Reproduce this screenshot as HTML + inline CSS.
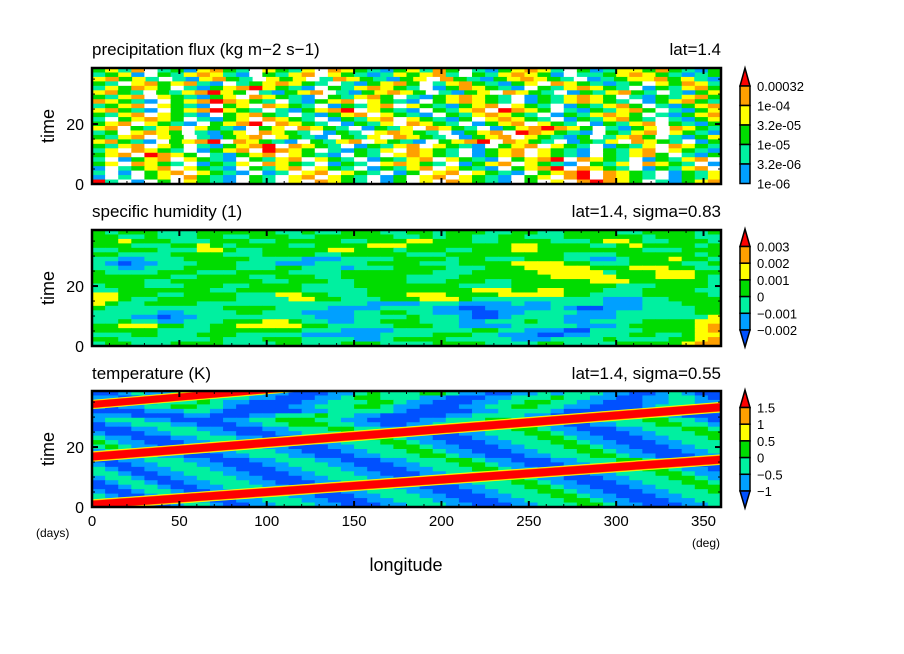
<!DOCTYPE html>
<html><head><meta charset="utf-8"><style>
body{margin:0;background:#fff;}
svg{display:block;font-family:"Liberation Sans",sans-serif;}
</style></head><body>
<svg id="chart" width="904" height="654" viewBox="0 0 904 654" xmlns="http://www.w3.org/2000/svg">
<rect width="904" height="654" fill="#fff"/>
</svg>
<script>
const lonTicks=[0,50,100,150,200,250,300,350];
const timeTicks=[0,20];
const tMax=38.7;
const precipLabels=["0.00032","1e-04","3.2e-05","1e-05","3.2e-06","1e-06"];
const humLabels=["0.003","0.002","0.001","0","\u22120.001","\u22120.002"];
const tempLabels=["1.5","1","0.5","0","\u22120.5","\u22121"];
// level grids (row 0 = top/latest time), 48 cols over 0-360 deg
const precipGrid=[
"3425.2314532.4324.5432134253.2134542.31244353213",
"2341.3245421.3245.4321243452.3245431.22345432123",
"45342.214532.434.25432134.5321345432.1234453421",
"32.4534521.2345432.213453.24532134.5432123.43542",
"243543.2134564321.3245432.1354321.3245432.132453",
"4532.3245643.21345.2134543.2134.5432.1324532.2134",
"3245.432134.54321.32453.21345432.1324543.2132453",
"54321.34565432.21345.4321.345432.13245432.134532",
"2345.4321.34.5432.13245.4321345.432.132453.21345",
"45321.3456432.213456.4321.3245.6543.2132453.2134",
"3245.4321.34532.21345.4321.3245432.1324543.21345",
"2.34543.2134.5432.13245.43213.45432.1324532.2134",
"345.4321.3456.5432.1324.5432.1345.432.13245.3213",
"45.3245.4321.34.5432.1324.5432.13456543.2134.5432",
"23.4543.2134.5432.132.45432.1345.654321.3245.4321",
"3245.43.21345.4321.324.5432.1345.43213.2453.2134",
"45321.3456.54321.3245.4321.3456.5432.1324.5432.13",
"3245.43.213456.5432.13245.4321.345.432.1324.5432",
"24.5432.1345.6543.21324.5432.1345.4321.3245.4321",
"345.6543.21345.4321.32.45432.1345.4321.32453.213",
"2.1345.4321.3245.432.13245.4321.3456.5432.13245.",
"34.5432.1324.5432.132.45432.1345.4321.324.5432.1",
"1.2345.4321.3245.432.13245.4321.3456.5432.13245.",
"2.1.345.4321.12.45.432.13.45.4321.3456.5432.1324",
"1.2.34.5321.32.45.432.13.45.4321.34.56.5432.1324",
"62.1.3.4321.32.4.5432.13.4.54321.3.4.56543.21345"
];
const humGrid=[
"323332223333332232233322332333223322333322333323",
"332232223322333223333332232332233222333333233322",
"334333222333223333322333443332233332223443223332",
"333222334323333223333444333333334433332234333323",
"223332224432233333443332333223334433333333222333",
"332222333322233332233333222333333333222233333323",
"221122233333222211122223333233222333221123334332",
"210112223332221112222333322233334444332223333223",
"221122233332223322212223333222333444443334443322",
"322223332223333222233333332223333344444233344433",
"333333223333223332233333222233333334444433344432",
"333322333333322333223333222333223333334443333332",
"233322233322333322223333333322223333333322233332",
"223333333223333322222333333334443344333222333322",
"443332233332224433222333444333344444332222333332",
"443223333332222443322233344432222222222111223333",
"432233332222222222222111122211112112222111222333",
"322222222233332222111122221100111112100111222233",
"222221122223322211112233221110011222211122222233",
"222110112222222221112222322210012222111122222224",
"223221122233344322112233322211222322112222333344",
"334443322334444433222223332211112222211123333345",
"333332222333333322211112222223322111002222333345",
"222332223332222211111122223332211100112223322344",
"332222222322233322221123333222221112222322223345",
"233222333322223322233322223333222233222233333455"
];
const tempGrid=[
"001211223223211000112322233211001121222110012100",
"110012233222110001123322211000112223221100112210",
"000112223211000011222332110001122332211000112211",
"101122332210000112223321100011223322110000122221",
"000011122100000011222221000001122221000000112211",
"111000011000112223221100000112222110001112221000",
"122211000011223332211000011222332110011222332210",
"011222110001122333221100112223332211001122233221",
"000112221100011222332211000112223321100011222332",
"100011222110001122233221100011222332110001122233",
"211000112221100011222332110001122233211000112223",
"321100011222110001122233211000112223321100011222",
"232110001122211000112223321100011222332110001122",
"122211000112221100011222332110001122233211000112",
"012221100011222110001122233211000112223321100011",
"001122211000112221100011222332110001122233211000",
"100112221100011222110001122233211000112223321100",
"210011222110001122211000112223321100011222332110",
"221001122211000112221100011222332110001122233211",
"122100112221100011222110001122233211000112223321",
"012210011222110001122211000112223321100011222332",
"001221001122211000112221100011222332110001122233",
"100122100112221100011222110001122233211000112223",
"210012210011222110001122211000112223321100011222",
"221001221001122211000112221100011222332110001122",
"122100122100112221100011222110001122233211000112"
];
// warm bands (red) in temperature: time at lon 0 and lon 360 (days)
const bandT0=[0.8,16.8,34.2];
const bandT360=[15.8,33.3,52.0];
const bandWidth=[2.6,2.6,2.3];

const NS="http://www.w3.org/2000/svg";
const svg=document.getElementById('chart');
function mk(tag,attrs,parent){const e=document.createElementNS(NS,tag);for(const k in attrs)e.setAttribute(k,attrs[k]);(parent||svg).appendChild(e);return e;}
const X0=92,X1=721;
function xs(lon){return X0+lon/360*(X1-X0);}
const panels=[{top:68,bot:184},{top:230,bot:346},{top:391,bot:507}];
function ys(p,t){const P=panels[p];return P.bot-t/tMax*(P.bot-P.top);}

const pal1={'.':'#ffffff','1':'#00a0ff','2':'#00f0a0','3':'#00dc00','4':'#ffff00','5':'#ffa000','6':'#ff0000'};
const palB={'0':'#0050ff','1':'#00a0ff','2':'#00f0a0','3':'#00dc00','4':'#ffff00','5':'#ffa000','6':'#ff0000'};

function drawGrid(p,grid,pal,name){
  const g=mk('g',{'clip-path':'url(#clip'+p+')'});
  
  
  const rows=grid.length;
  for(let r=0;r<rows;r++){
    const row=grid[r];const cols=row.length;
    const t1=tMax*(1-r/rows),t0=tMax*(1-(r+1)/rows);
    for(let c=0;c<cols;c++){
      const l0=c*360/cols,l1=(c+1)*360/cols;
      const x=xs(l0),y=ys(p,t1);
      const rc=mk('rect',{x:x,y:y,width:xs(l1)-x+0.5,height:ys(p,t0)-y+0.5,fill:pal[row[c]]||'#fff'},g);
      
      
    }
  }
  return g;
}
const defs=mk('defs',{});
panels.forEach((P,i)=>{const cp=mk('clipPath',{id:'clip'+i},defs);mk('rect',{x:X0,y:P.top,width:X1-X0,height:P.bot-P.top},cp);});

drawGrid(0,precipGrid,pal1,'precip-heatmap');
drawGrid(1,humGrid,palB,'humidity-heatmap');
const tg=drawGrid(2,tempGrid,palB,'temperature-heatmap');
// bands
[[1.35,'#ffff00'],[1.15,'#ffa000'],[1,'#ff0000']].forEach(([f,col])=>{
  for(let i=0;i<bandT0.length;i++){
    const w=bandWidth[i]*f/2;
    const pts=[[0,bandT0[i]-w],[360,bandT360[i]-w],[360,bandT360[i]+w],[0,bandT0[i]+w]].map(([l,t])=>xs(l)+','+ys(2,t)).join(' ');
    const pg=mk('polygon',{points:pts,fill:col},tg);
    
    
  }
});

const titles=[["precipitation flux (kg m\u22122 s\u22121)","lat=1.4",55],["specific humidity (1)","lat=1.4, sigma=0.83",217],["temperature (K)","lat=1.4, sigma=0.55",379]];
const barLabels=[precipLabels,humLabels,tempLabels];
panels.forEach((P,p)=>{
  const t=mk('text',{x:X0,y:titles[p][2],'font-size':17,fill:'#000'});t.textContent=titles[p][0];
  
  const t2=mk('text',{x:X1,y:titles[p][2],'font-size':17,'text-anchor':'end',fill:'#000'});t2.textContent=titles[p][1];
  
  const fr=mk('rect',{x:X0,y:P.top,width:X1-X0,height:P.bot-P.top,fill:'none',stroke:'#000','stroke-width':2.5});
  
  for(let l=0;l<=360;l+=10){const major=l%50===0;const len=major?6:3;
    mk('line',{x1:xs(l),x2:xs(l),y1:P.top,y2:P.top+len,stroke:'#000','stroke-width':major?2:1});
    mk('line',{x1:xs(l),x2:xs(l),y1:P.bot,y2:P.bot-len,stroke:'#000','stroke-width':major?2:1});}
  for(let d=0;d<=tMax;d+=5){const major=d%20===0;const len=major?6:3;
    mk('line',{x1:X0,x2:X0+len,y1:ys(p,d),y2:ys(p,d),stroke:'#000','stroke-width':major?2:1});
    mk('line',{x1:X1,x2:X1-len,y1:ys(p,d),y2:ys(p,d),stroke:'#000','stroke-width':major?2:1});}
  timeTicks.forEach(v=>{const tt=mk('text',{x:84,y:ys(p,v)+6,'font-size':16,'text-anchor':'end'});tt.textContent=v;
    });
  const yl=mk('text',{x:0,y:0,'font-size':18,'text-anchor':'middle',transform:'translate(54,'+((P.top+P.bot)/2)+') rotate(-90)'});yl.textContent='time';
  
  const cb=mk('g',{});
  const bx=740,bw=10;
  const segs=p===0?{tipTop:P.top,start:P.top+18,seg:19.5,cols:['#ffa000','#ffff00','#00dc00','#00f0a0','#00a0ff'],bottomTri:false}
    :{tipTop:P.top-1,start:P.top+16.5,seg:16.7,cols:['#ffa000','#ffff00','#00dc00','#00f0a0','#00a0ff'],bottomTri:true};
  mk('polygon',{points:`${bx},${segs.start} ${bx+bw},${segs.start} ${bx+bw/2},${segs.tipTop}`,fill:'#ff0000',stroke:'#000','stroke-width':1.5},cb);
  segs.cols.forEach((c,i)=>mk('rect',{x:bx,y:segs.start+i*segs.seg,width:bw,height:segs.seg,fill:c,stroke:'#000','stroke-width':1.5},cb));
  const endY=segs.start+5*segs.seg;
  if(segs.bottomTri)mk('polygon',{points:`${bx},${endY} ${bx+bw},${endY} ${bx+bw/2},${endY+17}`,fill:'#0050ff',stroke:'#000','stroke-width':1.5},cb);
  barLabels[p].forEach((s,i)=>{const lt=mk('text',{x:757,y:segs.start+i*segs.seg+5,'font-size':13},cb);lt.textContent=s;
    });
});
lonTicks.forEach(v=>{const t=mk('text',{x:xs(v),y:526,'font-size':15,'text-anchor':'middle'});t.textContent=v;
  });
[['(days)',36,537,12,'start'],['(deg)',720,547,12,'end'],['longitude',406,571,18,'middle']].forEach(([s,x,y,f,a])=>{
  const t=mk('text',{x:x,y:y,'font-size':f,'text-anchor':a});t.textContent=s;
  });
</script>
</body></html>
